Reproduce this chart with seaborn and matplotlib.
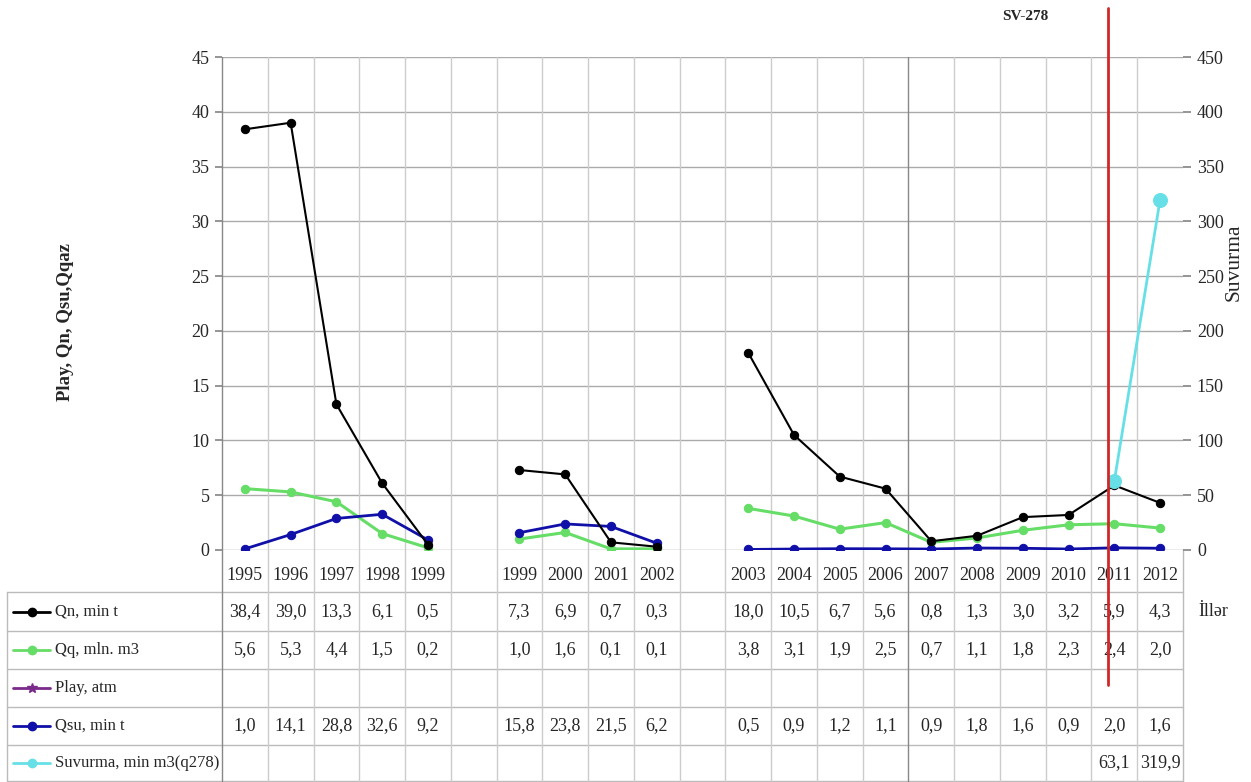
import numpy as np
import pandas as pd
import matplotlib
matplotlib.use("Agg")
import matplotlib.pyplot as plt
import seaborn as sns

# ---------------- data ----------------
categories = ["1995", "1996", "1997", "1998", "1999", "",
              "1999", "2000", "2001", "2002", "",
              "2003", "2004", "2005", "2006", "2007", "2008", "2009", "2010", "2011", "2012"]
nan = np.nan
qn = [38.4, 39.0, 13.3, 6.1, 0.5, nan, 7.3, 6.9, 0.7, 0.3, nan,
      18.0, 10.5, 6.7, 5.6, 0.8, 1.3, 3.0, 3.2, 5.9, 4.3]
qq = [5.6, 5.3, 4.4, 1.5, 0.2, nan, 1.0, 1.6, 0.1, 0.1, nan,
      3.8, 3.1, 1.9, 2.5, 0.7, 1.1, 1.8, 2.3, 2.4, 2.0]
play = [nan] * 21
qsu = [1.0, 14.1, 28.8, 32.6, 9.2, nan, 15.8, 23.8, 21.5, 6.2, nan,
       0.5, 0.9, 1.2, 1.1, 0.9, 1.8, 1.6, 0.9, 2.0, 1.6]
suvurma = [nan] * 19 + [63.1, 319.9]
segments = [(0, 4), (6, 9), (11, 20)]
row_labels = ["Qn, min t", "Qq, mln. m3", "Play, atm", "Qsu, min t", "Suvurma, min m3(q278)"]

# ---------------- style ----------------
sns.set_theme(style="white")
plt.rcParams['font.family'] = ['Liberation Serif', 'DejaVu Serif']

C_QN = "#000000"
C_QQ = "#66dd66"
C_PLAY = "#7a2a8a"
C_QSU = "#1010a8"
C_SUV = "#66e0e6"

W, H = 1251, 782
L, R, T, B = 222, 1183, 57, 550
TB = 781  # table bottom

fig = plt.figure(figsize=(W / 100, H / 100), dpi=100)
ax = fig.add_axes([L / W, 1 - B / H, (R - L) / W, (B - T) / H])
ax.set_xlim(-0.5, 20.5)
ax.set_ylim(0, 45)

df = pd.DataFrame({"pos": np.arange(21), "Qn": qn, "Qq": qq,
                   "Qsu_plot": np.array(qsu) / 10.0, "Suv": suvurma})

# grid
ax.set_yticks(np.arange(0, 46, 5))
for yv in np.arange(5, 46, 5):
    ax.axhline(yv, color="#aaaaaa", lw=1.0, zorder=0)
ax.axhline(0, color="#999999", lw=1.0, zorder=0)
ext = (TB - B) / (B - T)
for k in range(1, 22):
    xb = k - 0.5
    if k == 21:
        ax.axvline(xb, ymin=-ext, ymax=0, color="#bbbbbb", lw=1.0, clip_on=False, zorder=0)
        continue
    dark = (k == 15)
    ax.axvline(xb, ymin=-ext, ymax=1, color="#888888" if dark else "#cccccc",
               lw=1.0, clip_on=False, zorder=0)
ax.axvline(-0.5, ymin=-ext, ymax=1, color="#888888", lw=1.0, clip_on=False, zorder=1)

for a, b in segments:
    sub = df.iloc[a:b + 1]
    sns.lineplot(data=sub, x="pos", y="Qq", ax=ax, color=C_QQ, marker="o", markersize=6,
                 markeredgecolor=C_QQ, lw=2.2, legend=False, zorder=3)
    sns.lineplot(data=sub, x="pos", y="Qsu_plot", ax=ax, color=C_QSU, marker="o", markersize=6,
                 markeredgecolor=C_QSU, lw=2.0, legend=False, zorder=4)
    sns.lineplot(data=sub, x="pos", y="Qn", ax=ax, color=C_QN, marker="o", markersize=6,
                 markeredgecolor=C_QN, lw=1.5, legend=False, zorder=5)

for s in ax.spines.values():
    s.set_visible(False)
ax.set_xticks([])
ax.set_xlabel("")
ax.set_ylabel("")
ax.tick_params(axis="y", left=True, length=5, color="#888888", labelsize=13, pad=4)
ax.yaxis.set_ticks_position("left")
ax.text((66 - L) / (R - L), (B - 322) / (B - T), "Play, Qn, Qsu,Qqaz", transform=ax.transAxes,
        rotation=90, ha="center", va="center", fontsize=13.5, fontweight="bold")

ax2 = ax.twinx()
ax2.set_ylim(0, 450)
ax2.set_yticks(np.arange(0, 451, 50))
sub = df.iloc[19:21]
sns.lineplot(data=sub, x="pos", y="Suv", ax=ax2, color=C_SUV, marker="o", markersize=10,
             markeredgecolor=C_SUV, lw=2.0, legend=False, zorder=6)
for s in ax2.spines.values():
    s.set_visible(False)
ax2.set_xlabel("")
ax2.set_ylabel("")
ax2.tick_params(axis="y", right=True, length=6, color="#888888", labelsize=13, pad=4)
ax2.grid(False)
ax2.text((1234 - L) / (R - L), (B - 262) / (B - T), "Suvurma", transform=ax2.transAxes,
         rotation=90, ha="center", va="center", fontsize=15.5)

# red marker line
ax2.axvline(18.87, ymin=-(685 - B) / (B - T), ymax=(B - 8) / (B - T),
            color="#d02828", lw=2.0, clip_on=False, zorder=10)
fig.text(1025 / W, 1 - 16 / H, "SV-278", fontsize=11, fontweight="bold", ha="center", va="center")

# ---------------- data table ----------------
axt = fig.add_axes([0, 0, 1, 1], zorder=-1)
axt.set_xlim(0, W)
axt.set_ylim(H, 0)
axt.axis("off")
cw = (R - L) / 21.0
centers = [L + (i + 0.5) * cw for i in range(21)]
row_lines = [592, 631, 669, 707, 745, TB]
for yv in row_lines:
    axt.plot([7, R], [yv, yv], color="#bbbbbb", lw=1.0)
axt.plot([7, 7], [592, TB], color="#bbbbbb", lw=1.0)

for i, c in enumerate(categories):
    if c:
        axt.text(centers[i], 575, c, ha="center", va="center", fontsize=13)

series_rows = [qn, qq, play, qsu, suvurma]
row_colors = [C_QN, C_QQ, C_PLAY, C_QSU, C_SUV]
row_markers = ["o", "o", "*", "o", "o"]
for r, (vals, col, mk, lab) in enumerate(zip(series_rows, row_colors, row_markers, row_labels)):
    yc = (row_lines[r] + row_lines[r + 1]) / 2.0
    for i, v in enumerate(vals):
        if not np.isnan(v):
            axt.text(centers[i], yc, f"{v:.1f}".replace(".", ","), ha="center", va="center",
                     fontsize=13)
    axt.plot([13, 50], [yc, yc], color=col, lw=2.0)
    axt.plot([31.5], [yc], color=col, marker=mk, markersize=7 if mk == "*" else 6,
             markeredgecolor=col)
    axt.text(55, yc, lab, ha="left", va="center", fontsize=12)

axt.text(1213, 612, "İllər", ha="center", va="center", fontsize=13)

fig.savefig("out.png", dpi=100, facecolor="white")
